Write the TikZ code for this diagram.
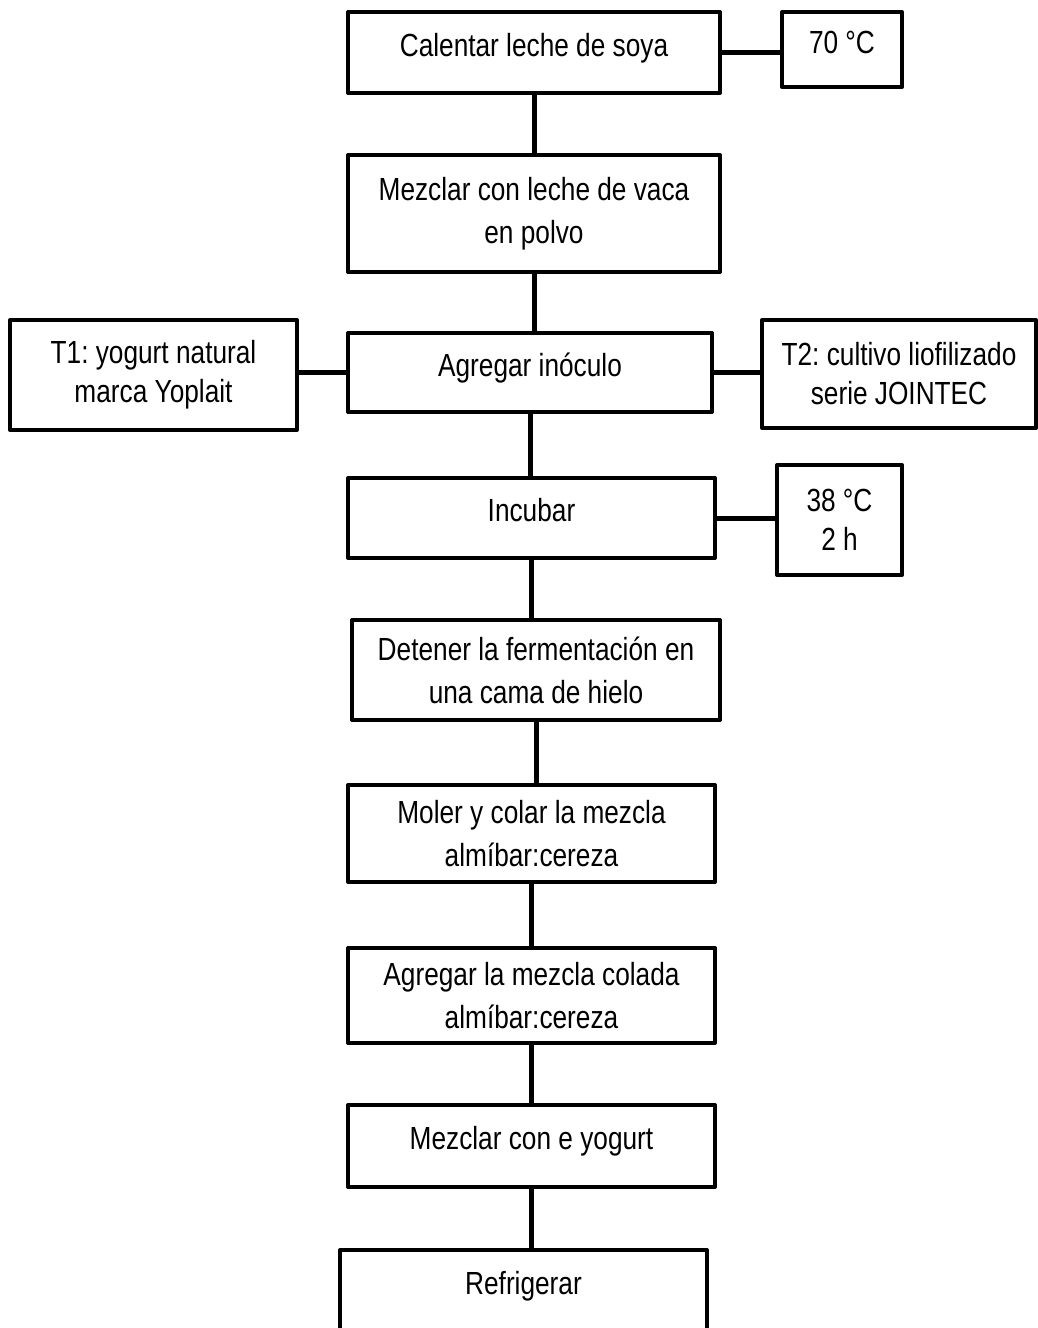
\documentclass[tikz,border=0pt]{standalone}
\usepackage{fontspec}
\setmainfont{Liberation Sans}[FakeStretch=0.82]
\frenchspacing

\begin{document}
\begin{tikzpicture}[x=0.5pt, y=-0.5pt,
    every node/.style={font=\fontsize{16pt}{21.5pt}\selectfont},
    paso/.style={draw, line width=2pt, line join=round, fill=white, align=center, inner sep=0pt},
    lado/.style={font=\fontsize{16pt}{19.5pt}\selectfont},
    alto/.style={text height=12pt, text depth=8.5pt},
    enlace/.style={line width=2.5pt}]
  \useasboundingbox (0,0) rectangle (1038,1328);

  % proceso principal
  \node[paso, alto, minimum width=186pt, minimum height=40.5pt] (calentar) at (534,52.5) {Calentar leche de soya};
  \node[paso, minimum width=186pt, minimum height=58.5pt] (mezclar) at (534,213.5) {Mezclar con leche de vaca\\en polvo};
  \node[paso, alto, minimum width=182pt, minimum height=39.5pt] (inoculo) at (530,372.5) {Agregar inóculo};
  \node[paso, alto, minimum width=183.5pt, minimum height=40pt] (incubar) at (531.5,518) {Incubar};
  \node[paso, minimum width=184pt, minimum height=50pt] (detener) at (536,670) {Detener la fermentación en\\una cama de hielo};
  \node[paso, minimum width=183.5pt, minimum height=48.5pt] (moler) at (531.5,833.5) {Moler y colar la mezcla\\almíbar:cereza};
  \node[paso, minimum width=183.5pt, minimum height=47.5pt] (agregar) at (531.5,995.5) {Agregar la mezcla colada\\almíbar:cereza};
  \node[paso, alto, minimum width=183.5pt, minimum height=41pt] (yogurt) at (531.5,1146) {Mezclar con e yogurt};
  \node[paso, alto, minimum width=183.5pt, minimum height=41pt] (refrigerar) at (523.5,1291) {Refrigerar};

  % condiciones laterales
  \node[paso, alto, minimum width=60pt, minimum height=37.5pt] (temp1) at (842,49.5) {70 °C};
  \node[paso, lado, minimum width=143.5pt, minimum height=55pt] (tuno) at (153.5,375) {T1: yogurt natural\\marca Yoplait};
  \node[paso, lado, minimum width=137pt, minimum height=54pt] (tdos) at (899,374) {T2: cultivo liofilizado\\serie JOINTEC};
  \node[paso, lado, minimum width=62.5pt, minimum height=55pt] (temp2) at (839.5,520) {38 °C\\2 h};

  % enlaces
  \foreach \a/\b in {calentar/mezclar, mezclar/inoculo, inoculo/incubar, incubar/detener,
                     detener/moler, moler/agregar, agregar/yogurt, yogurt/refrigerar}
    \draw[enlace] (\a.south) -- (\a.south |- \b.north);
  \draw[enlace] (calentar.east) -- (calentar.east -| temp1.west);
  \draw[enlace] (inoculo.west) -- (inoculo.west -| tuno.east);
  \draw[enlace] (inoculo.east) -- (inoculo.east -| tdos.west);
  \draw[enlace] (incubar.east) -- (incubar.east -| temp2.west);
\end{tikzpicture}
\end{document}
